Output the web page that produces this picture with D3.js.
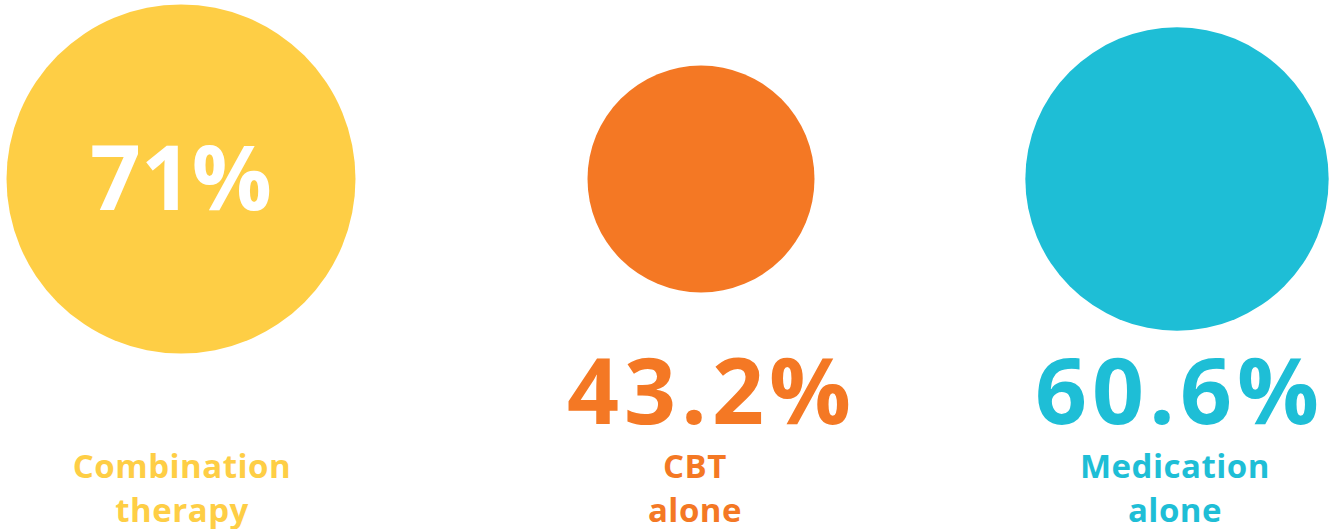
<!DOCTYPE html>
<html>
<head>
<meta charset="utf-8">
<script src="https://cdn.jsdelivr.net/npm/d3@7"></script>
<style>
  html, body { margin: 0; padding: 0; background: #ffffff; }
  svg { display: block; }
  text { font-family: "Open Sans", "DejaVu Sans", sans-serif; font-weight: 700; }
</style>
</head>
<body>
<svg id="chart" width="1338" height="529"></svg>
<script>
// ---- data ----
const categories = ["Combination therapy", "CBT alone", "Medication alone"];
const labelLines = [["Combination", "therapy"], ["CBT", "alone"], ["Medication", "alone"]];
const values = [71, 43.2, 60.6];
const valueLabels = ["71%", "43.2%", "60.6%"];

// ---- layout / style (not data) ----
const W = 1338, H = 529;
const colors = ["#FECE45", "#F47824", "#1EBED6"];
const centerX = [181, 701, 1177];
const centerY = 179;
const valueDx = [0, 10.5, 2.5];
const labelDx = [1, -6, -2];

const svg = d3.select("#chart");

const x = d3.scaleOrdinal().domain(categories).range(centerX);
const r = d3.scaleLinear().domain([0, 71]).range([18.7, 174.5]);
const color = d3.scaleOrdinal().domain(categories).range(colors);

const data = categories.map((c, i) => ({
  cat: c, value: values[i], label: valueLabels[i], lines: labelLines[i], i
}));

const g = svg.selectAll("g.item").data(data).enter().append("g").attr("class", "item");

g.append("circle")
  .attr("cx", d => x(d.cat))
  .attr("cy", centerY)
  .attr("r", d => r(d.value))
  .attr("fill", d => color(d.cat));

// value labels: inside circle for the largest, below otherwise
g.append("text")
  .attr("x", d => x(d.cat) + valueDx[d.i])
  .attr("y", d => d.i === 0 ? 209.5 : 423.5)
  .attr("text-anchor", "middle")
  .attr("font-size", d => d.i === 0 ? 89 : 91)
  .attr("letter-spacing", d => d.i === 0 ? 0 : 5)
  .attr("fill", d => d.i === 0 ? "#ffffff" : color(d.cat))
  .text(d => d.label);

g.each(function(d) {
  const sel = d3.select(this);
  d.lines.forEach((line, k) => {
    sel.append("text")
      .attr("x", x(d.cat) + labelDx[d.i])
      .attr("y", 478 + k * 43.5)
      .attr("text-anchor", "middle")
      .attr("font-size", 33)
      .attr("letter-spacing", 0.5)
      .attr("fill", color(d.cat))
      .text(line);
  });
});
</script>
</body>
</html>
